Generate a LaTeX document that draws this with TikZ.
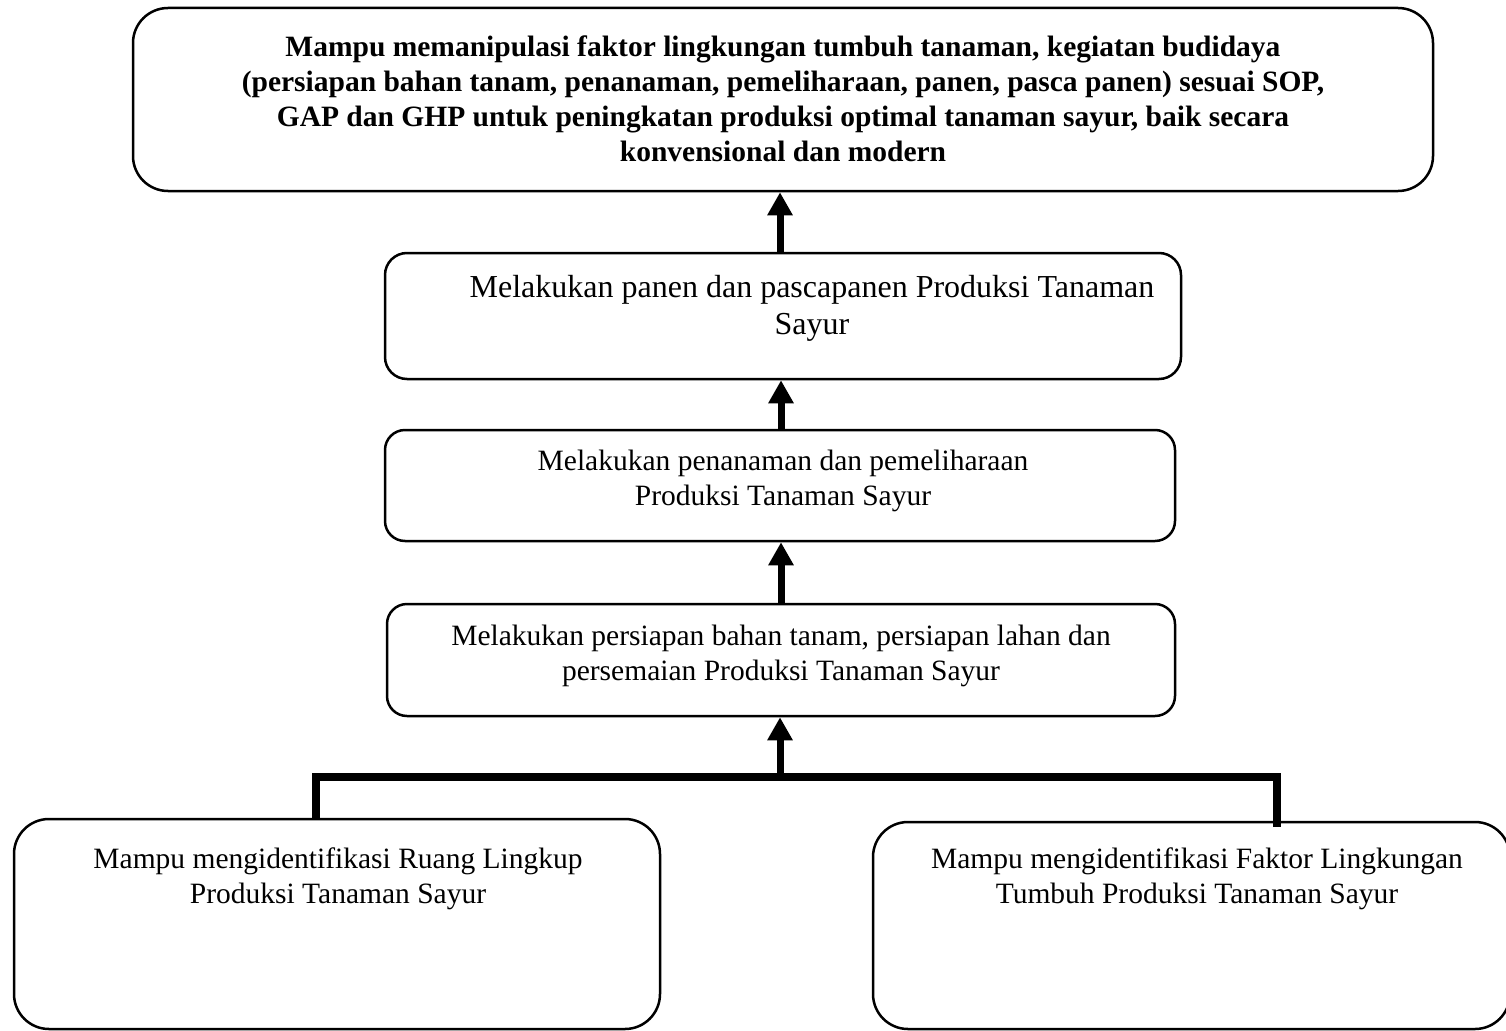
\documentclass[tikz,border=0pt]{standalone}
\usepackage{fontspec}
\setmainfont{Liberation Serif}
\usetikzlibrary{arrows.meta}
\begin{document}
\begin{tikzpicture}[x=1pt,y=-1pt,
  box/.style={draw, line width=2.5pt, inner sep=0pt, minimum width=#1},
  lbl/.style={align=center, inner sep=0pt, font=\fontsize{29.5}{35}\selectfont},
  upar/.style={line width=7pt, -{Triangle[width=24pt,length=23pt]}},
  conn/.style={line width=8pt, line join=miter}]
\useasboundingbox (0,0) rectangle (1506,1030);
\clip (0,0) rectangle (1506,1030);

% boxes
\node[box=1300pt, minimum height=183pt, rounded corners=35pt] (b1) at (783,99.5) {};
\node[box=796pt, minimum height=126pt, rounded corners=22pt] (b2) at (783,316) {};
\node[box=790pt, minimum height=111pt, rounded corners=20pt] (b3) at (780,485.5) {};
\node[box=788pt, minimum height=112pt, rounded corners=20pt] (b4) at (781,660) {};
\node[box=646pt, minimum height=210pt, rounded corners=35pt] (bl) at (337,924) {};
\node[box=637pt, minimum height=207pt, rounded corners=35pt] (br) at (1191.5,925.5) {};

% texts
\node[lbl, font=\fontsize{29.5}{35}\selectfont\bfseries] (t1) at (783,99)
  {Mampu memanipulasi faktor lingkungan tumbuh tanaman, kegiatan budidaya\\
   (persiapan bahan tanam, penanaman, pemeliharaan, panen, pasca panen) sesuai SOP,\\
   GAP dan GHP untuk peningkatan produksi optimal tanaman sayur, baik secara\\
   konvensional dan modern};
\node[lbl, font=\fontsize{32}{37}\selectfont] (t2) at (812,308) {Melakukan panen dan pascapanen Produksi Tanaman\\Sayur};
\node[lbl] (t3) at (783,481) {Melakukan penanaman dan pemeliharaan\\Produksi Tanaman Sayur};
\node[lbl] (t4) at (781,656) {Melakukan persiapan bahan tanam, persiapan lahan dan\\persemaian Produksi Tanaman Sayur};
\node[lbl] (tl) at (338,879) {Mampu mengidentifikasi Ruang Lingkup\\Produksi Tanaman Sayur};
\node[lbl] (tr) at (1197,879) {Mampu mengidentifikasi Faktor Lingkungan\\Tumbuh Produksi Tanaman Sayur};

% arrows between stages
\coordinate (a1) at (780,0);
\coordinate (a2) at (781,0);
\draw[upar] (a1 |- b2.north) -- (a1 |- b1.south);
\draw[upar] (a2 |- b3.north) -- (a2 |- b2.south);
\draw[upar] (a2 |- b4.north) -- (a2 |- b3.south);

% joining bracket from the two bottom boxes
\coordinate (j) at (780,777);
\draw[conn] ([xshift=-21pt]bl.north) |- (j) -| ([xshift=85.5pt,yshift=-6pt]br.north);
\draw[upar] (j) -- (j |- b4.south);
\end{tikzpicture}
\end{document}
